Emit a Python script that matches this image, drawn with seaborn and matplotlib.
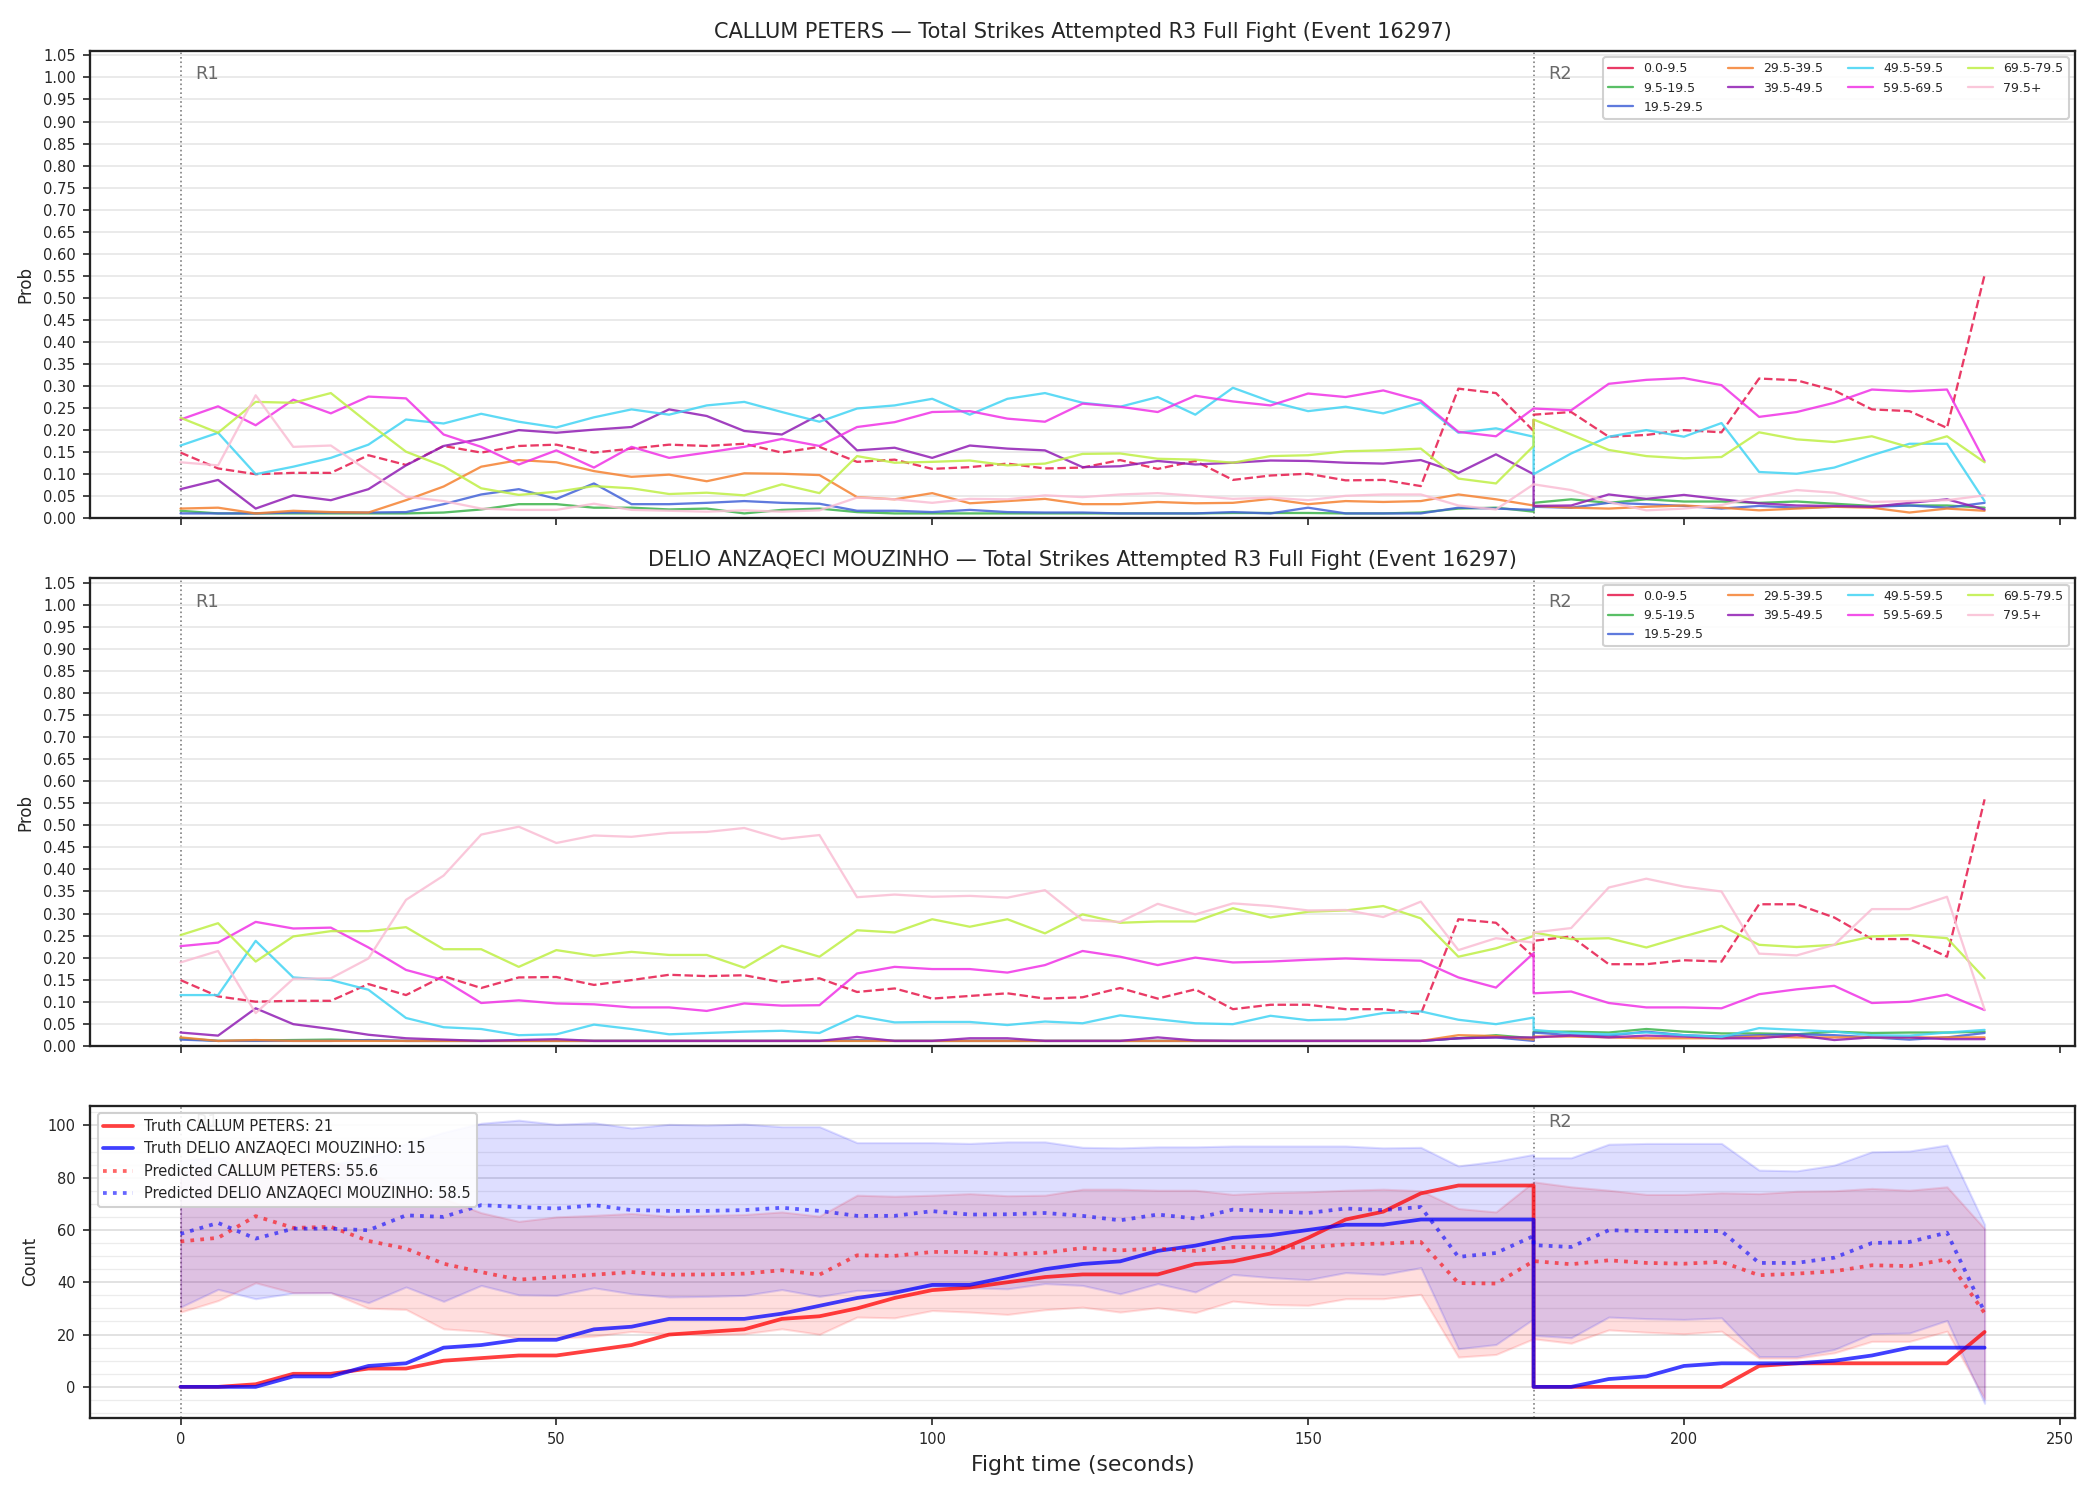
import numpy as np
import matplotlib
matplotlib.use("Agg")
import matplotlib.pyplot as plt
from matplotlib.ticker import MultipleLocator
from matplotlib.lines import Line2D
import seaborn as sns

# time grid: round 1 (0..180) then round 2 (180..240), 5 s steps
t_r1 = np.arange(0, 181, 5)
t_r2 = np.arange(180, 241, 5)
t = np.concatenate([t_r1, t_r2])

bins = ["0.0-9.5", "9.5-19.5", "19.5-29.5", "29.5-39.5", "39.5-49.5",
        "49.5-59.5", "59.5-69.5", "69.5-79.5", "79.5+"]
bin_colors = ["#e6194b", "#3cb44b", "#4363d8", "#f58231", "#911eb4",
              "#42d4f4", "#f032e6", "#bfef45", "#fabed4"]

# ---- CALLUM PETERS bin probabilities (37 round-1 values + 13 round-2 values)
cp_b0 = [0.149, 0.113, 0.100, 0.103, 0.103, 0.143, 0.121, 0.164, 0.149, 0.164,
         0.167, 0.149, 0.158, 0.167, 0.164, 0.169, 0.149, 0.162, 0.128, 0.133,
         0.112, 0.116, 0.124, 0.113, 0.115, 0.132, 0.112, 0.130, 0.087, 0.097,
         0.101, 0.086, 0.087, 0.073, 0.294, 0.284, 0.198,
         0.235, 0.241, 0.185, 0.189, 0.200, 0.195, 0.317, 0.313, 0.290, 0.247, 0.243, 0.205, 0.552]
cp_b1 = [0.017, 0.011, 0.011, 0.011, 0.011, 0.011, 0.011, 0.013, 0.020, 0.032,
         0.032, 0.024, 0.024, 0.020, 0.022, 0.011, 0.019, 0.022, 0.014, 0.011,
         0.011, 0.011, 0.011, 0.011, 0.011, 0.011, 0.011, 0.011, 0.012, 0.012,
         0.012, 0.011, 0.011, 0.013, 0.022, 0.024, 0.015,
         0.035, 0.043, 0.035, 0.043, 0.038, 0.038, 0.035, 0.038, 0.033, 0.028, 0.029, 0.029, 0.024]
cp_b2 = [0.011, 0.011, 0.011, 0.013, 0.013, 0.013, 0.014, 0.032, 0.054, 0.066,
         0.044, 0.079, 0.032, 0.032, 0.035, 0.039, 0.035, 0.033, 0.017, 0.017,
         0.014, 0.019, 0.014, 0.013, 0.013, 0.011, 0.011, 0.011, 0.014, 0.011,
         0.024, 0.011, 0.011, 0.011, 0.024, 0.022, 0.019,
         0.026, 0.024, 0.035, 0.032, 0.028, 0.022, 0.028, 0.024, 0.026, 0.026, 0.029, 0.024, 0.035]
cp_b3 = [0.022, 0.024, 0.011, 0.017, 0.014, 0.013, 0.041, 0.072, 0.117, 0.132,
         0.127, 0.107, 0.094, 0.099, 0.084, 0.102, 0.101, 0.098, 0.048, 0.043,
         0.057, 0.034, 0.039, 0.044, 0.032, 0.032, 0.037, 0.034, 0.035, 0.044,
         0.032, 0.039, 0.037, 0.039, 0.054, 0.043, 0.029,
         0.028, 0.024, 0.022, 0.026, 0.029, 0.024, 0.018, 0.022, 0.026, 0.024, 0.013, 0.022, 0.017]
cp_b4 = [0.066, 0.087, 0.022, 0.052, 0.041, 0.066, 0.120, 0.164, 0.180, 0.200,
         0.194, 0.201, 0.207, 0.247, 0.232, 0.198, 0.190, 0.235, 0.154, 0.160,
         0.137, 0.165, 0.158, 0.154, 0.116, 0.118, 0.130, 0.122, 0.126, 0.131,
         0.130, 0.126, 0.124, 0.132, 0.103, 0.145, 0.100,
         0.028, 0.029, 0.054, 0.044, 0.053, 0.043, 0.034, 0.029, 0.028, 0.026, 0.035, 0.043, 0.020]
cp_b5 = [0.165, 0.194, 0.100, 0.117, 0.137, 0.167, 0.224, 0.215, 0.237, 0.219,
         0.206, 0.229, 0.247, 0.235, 0.256, 0.264, 0.241, 0.219, 0.249, 0.256,
         0.271, 0.235, 0.271, 0.284, 0.262, 0.253, 0.275, 0.235, 0.296, 0.265,
         0.243, 0.253, 0.238, 0.262, 0.194, 0.204, 0.185,
         0.100, 0.147, 0.185, 0.200, 0.185, 0.216, 0.105, 0.101, 0.115, 0.143, 0.169, 0.169, 0.039]
cp_b6 = [0.224, 0.254, 0.211, 0.269, 0.238, 0.276, 0.272, 0.190, 0.162, 0.122,
         0.154, 0.115, 0.162, 0.137, 0.149, 0.162, 0.180, 0.164, 0.207, 0.218,
         0.241, 0.243, 0.226, 0.219, 0.260, 0.253, 0.241, 0.278, 0.265, 0.256,
         0.283, 0.275, 0.290, 0.267, 0.196, 0.186, 0.249,
         0.249, 0.245, 0.305, 0.314, 0.318, 0.302, 0.230, 0.241, 0.262, 0.292, 0.288, 0.292, 0.130]
cp_b7 = [0.228, 0.194, 0.264, 0.262, 0.284, 0.216, 0.151, 0.118, 0.068, 0.053,
         0.060, 0.073, 0.068, 0.055, 0.058, 0.052, 0.077, 0.057, 0.141, 0.126,
         0.128, 0.131, 0.120, 0.124, 0.146, 0.147, 0.135, 0.133, 0.126, 0.141,
         0.143, 0.152, 0.154, 0.158, 0.090, 0.079, 0.164,
         0.224, 0.190, 0.155, 0.141, 0.136, 0.139, 0.195, 0.179, 0.173, 0.186, 0.161, 0.186, 0.127]
cp_b8 = [0.127, 0.120, 0.279, 0.162, 0.165, 0.107, 0.049, 0.039, 0.022, 0.019,
         0.019, 0.033, 0.019, 0.017, 0.015, 0.018, 0.015, 0.018, 0.047, 0.043,
         0.035, 0.044, 0.043, 0.052, 0.048, 0.054, 0.057, 0.051, 0.044, 0.047,
         0.041, 0.051, 0.054, 0.054, 0.029, 0.020, 0.077,
         0.077, 0.064, 0.037, 0.018, 0.022, 0.030, 0.049, 0.064, 0.058, 0.037, 0.039, 0.041, 0.052]

# ---- DELIO ANZAQECI MOUZINHO bin probabilities
dm_b0 = [0.149, 0.112, 0.100, 0.102, 0.102, 0.140, 0.115, 0.158, 0.131, 0.155,
         0.156, 0.138, 0.149, 0.161, 0.158, 0.160, 0.144, 0.153, 0.122, 0.130,
         0.107, 0.113, 0.119, 0.107, 0.110, 0.131, 0.107, 0.128, 0.083, 0.093,
         0.093, 0.083, 0.083, 0.072, 0.287, 0.279, 0.202,
         0.238, 0.248, 0.185, 0.185, 0.194, 0.191, 0.321, 0.321, 0.291, 0.242, 0.242, 0.202, 0.559]
dm_b1 = [0.017, 0.011, 0.012, 0.013, 0.014, 0.012, 0.011, 0.011, 0.011, 0.011,
         0.011, 0.011, 0.011, 0.011, 0.011, 0.011, 0.011, 0.011, 0.011, 0.011,
         0.011, 0.011, 0.011, 0.011, 0.011, 0.011, 0.011, 0.011, 0.011, 0.011,
         0.011, 0.011, 0.011, 0.011, 0.017, 0.024, 0.017,
         0.032, 0.032, 0.030, 0.038, 0.032, 0.028, 0.028, 0.026, 0.032, 0.029, 0.030, 0.030, 0.032]
dm_b2 = [0.014, 0.011, 0.011, 0.011, 0.011, 0.013, 0.011, 0.011, 0.011, 0.011,
         0.011, 0.011, 0.011, 0.011, 0.011, 0.011, 0.011, 0.011, 0.013, 0.011,
         0.011, 0.011, 0.011, 0.011, 0.011, 0.011, 0.011, 0.011, 0.011, 0.011,
         0.011, 0.011, 0.011, 0.011, 0.017, 0.019, 0.011,
         0.030, 0.024, 0.023, 0.032, 0.024, 0.021, 0.024, 0.026, 0.024, 0.019, 0.014, 0.019, 0.029]
dm_b3 = [0.019, 0.011, 0.013, 0.011, 0.011, 0.011, 0.011, 0.011, 0.011, 0.011,
         0.011, 0.011, 0.011, 0.011, 0.011, 0.011, 0.011, 0.011, 0.011, 0.011,
         0.011, 0.011, 0.011, 0.011, 0.011, 0.011, 0.011, 0.011, 0.011, 0.011,
         0.011, 0.011, 0.011, 0.011, 0.024, 0.022, 0.014,
         0.021, 0.021, 0.019, 0.017, 0.017, 0.017, 0.021, 0.019, 0.019, 0.019, 0.019, 0.019, 0.019]
dm_b4 = [0.030, 0.023, 0.085, 0.049, 0.038, 0.025, 0.017, 0.014, 0.011, 0.013,
         0.015, 0.011, 0.011, 0.011, 0.011, 0.011, 0.011, 0.011, 0.020, 0.011,
         0.011, 0.017, 0.017, 0.011, 0.011, 0.011, 0.019, 0.012, 0.011, 0.011,
         0.011, 0.011, 0.011, 0.011, 0.017, 0.019, 0.019,
         0.019, 0.023, 0.019, 0.023, 0.021, 0.017, 0.017, 0.024, 0.013, 0.019, 0.019, 0.015, 0.015]
dm_b5 = [0.115, 0.115, 0.238, 0.155, 0.149, 0.127, 0.063, 0.042, 0.038, 0.024,
         0.026, 0.048, 0.038, 0.026, 0.029, 0.032, 0.034, 0.029, 0.068, 0.053,
         0.054, 0.054, 0.047, 0.055, 0.051, 0.069, 0.060, 0.051, 0.049, 0.068,
         0.058, 0.060, 0.074, 0.078, 0.059, 0.049, 0.064,
         0.036, 0.029, 0.026, 0.030, 0.024, 0.020, 0.040, 0.036, 0.032, 0.024, 0.023, 0.030, 0.036]
dm_b6 = [0.226, 0.234, 0.281, 0.266, 0.268, 0.223, 0.172, 0.149, 0.097, 0.103,
         0.096, 0.094, 0.087, 0.087, 0.079, 0.096, 0.091, 0.092, 0.164, 0.179,
         0.174, 0.174, 0.166, 0.183, 0.215, 0.202, 0.183, 0.200, 0.189, 0.191,
         0.195, 0.198, 0.195, 0.193, 0.155, 0.132, 0.210,
         0.119, 0.123, 0.097, 0.087, 0.087, 0.085, 0.117, 0.128, 0.136, 0.097, 0.100, 0.116, 0.081]
dm_b7 = [0.251, 0.278, 0.191, 0.248, 0.260, 0.260, 0.269, 0.219, 0.219, 0.179,
         0.217, 0.204, 0.213, 0.206, 0.206, 0.177, 0.227, 0.202, 0.262, 0.257,
         0.287, 0.270, 0.287, 0.255, 0.298, 0.279, 0.282, 0.282, 0.312, 0.291,
         0.304, 0.307, 0.317, 0.289, 0.202, 0.221, 0.249,
         0.257, 0.242, 0.244, 0.223, 0.248, 0.272, 0.229, 0.224, 0.229, 0.248, 0.251, 0.244, 0.153]
dm_b8 = [0.189, 0.215, 0.074, 0.152, 0.153, 0.198, 0.331, 0.386, 0.479, 0.497,
         0.460, 0.477, 0.474, 0.483, 0.485, 0.494, 0.469, 0.478, 0.337, 0.343,
         0.338, 0.340, 0.336, 0.353, 0.285, 0.281, 0.322, 0.298, 0.323, 0.317,
         0.307, 0.308, 0.292, 0.327, 0.217, 0.244, 0.234,
         0.257, 0.267, 0.359, 0.379, 0.361, 0.350, 0.209, 0.205, 0.229, 0.310, 0.310, 0.338, 0.082]

# ---- counts
truth_cp = [0, 0, 1, 5, 5, 7, 7, 10, 11, 12, 12, 14, 16, 20, 21, 22, 26, 27, 30, 34,
            37, 38, 40, 42, 43, 43, 43, 47, 48, 51, 57, 64, 67, 74, 77, 77, 77,
            0, 0, 0, 0, 0, 0, 8, 9, 9, 9, 9, 9, 21]
truth_dm = [0, 0, 0, 4, 4, 8, 9, 15, 16, 18, 18, 22, 23, 26, 26, 26, 28, 31, 34, 36,
            39, 39, 42, 45, 47, 48, 52, 54, 57, 58, 60, 62, 62, 64, 64, 64, 64,
            0, 0, 3, 4, 8, 9, 9, 9, 10, 12, 15, 15, 15]
pred_cp = [55.6, 57.0, 65.3, 60.8, 61.2, 55.8, 52.9, 47.1, 43.9, 41.0,
           42.0, 42.9, 43.9, 42.9, 43.0, 43.3, 44.6, 42.9, 50.3, 50.1,
           51.6, 51.6, 50.7, 51.3, 53.1, 52.2, 52.9, 52.0, 53.5, 53.3,
           53.3, 54.5, 54.8, 55.4, 39.7, 39.5, 48.1,
           48.1, 46.9, 48.4, 47.4, 47.1, 47.8, 42.7, 43.3, 44.2, 46.5, 46.2, 48.8, 28.2]
pred_dm = [58.5, 62.7, 56.7, 60.5, 60.5, 59.9, 65.6, 65.0, 69.5, 68.8,
           68.2, 69.5, 67.6, 67.3, 67.3, 67.6, 68.5, 67.3, 65.4, 65.4,
           67.2, 65.9, 66.0, 66.5, 65.4, 63.7, 65.9, 64.4, 67.8, 67.2,
           66.5, 68.2, 67.6, 68.8, 49.7, 51.2, 57.7,
           54.2, 53.5, 59.9, 59.6, 59.5, 59.6, 47.4, 47.4, 49.4, 55.0, 55.4, 59.0, 28.6]
lo_cp = [28.6, 33.0, 39.8, 36.0, 36.0, 30.1, 29.6, 22.2, 21.2, 18.6,
         18.6, 19.4, 21.2, 20.3, 19.9, 20.3, 22.2, 20.1, 26.7, 26.4,
         29.2, 28.6, 27.7, 29.5, 30.5, 28.6, 30.3, 28.4, 32.8, 31.5,
         31.2, 33.7, 33.7, 35.4, 11.4, 12.4, 18.4,
         18.4, 16.7, 21.8, 20.9, 20.3, 21.3, 11.0, 11.0, 13.0, 17.4, 17.4, 21.3, -4.5]
hi_cp = [82.6, 81.0, 90.8, 85.6, 86.4, 81.5, 76.2, 72.0, 66.6, 63.3,
         65.0, 65.6, 66.3, 65.3, 65.6, 65.9, 66.9, 65.3, 73.3, 72.9,
         73.3, 73.9, 73.1, 73.3, 75.6, 75.6, 75.2, 75.2, 73.6, 74.3,
         74.6, 75.2, 75.6, 75.0, 68.2, 66.9, 78.4,
         78.4, 76.5, 75.2, 73.6, 73.6, 74.2, 73.9, 74.8, 75.0, 75.9, 75.2, 76.5, 60.5]
lo_dm = [30.5, 37.3, 33.7, 35.9, 36.0, 32.2, 38.2, 32.7, 38.8, 35.2,
         35.0, 37.9, 35.6, 34.4, 34.6, 35.0, 37.2, 34.6, 36.9, 36.9,
         38.4, 37.9, 37.5, 39.5, 38.8, 35.6, 39.5, 36.3, 43.0, 41.8,
         41.0, 43.7, 43.0, 45.6, 14.6, 16.2, 26.0,
         19.7, 18.8, 26.7, 26.1, 25.8, 26.4, 11.6, 11.6, 14.3, 20.3, 20.6, 25.4, -6.3]
hi_dm = [86.5, 88.0, 79.7, 85.1, 85.0, 87.6, 93.0, 97.3, 100.8, 102.0,
         100.4, 101.0, 99.0, 100.4, 100.1, 100.5, 99.5, 99.5, 93.4, 93.4,
         93.4, 93.1, 93.7, 93.7, 91.6, 91.4, 91.8, 91.8, 92.1, 92.1,
         92.1, 92.1, 91.4, 91.6, 84.5, 86.3, 88.9,
         87.6, 87.6, 92.8, 93.1, 93.1, 93.1, 82.9, 82.6, 84.8, 89.9, 90.2, 92.5, 62.1]

cp_probs = [cp_b0, cp_b1, cp_b2, cp_b3, cp_b4, cp_b5, cp_b6, cp_b7, cp_b8]
dm_probs = [dm_b0, dm_b1, dm_b2, dm_b3, dm_b4, dm_b5, dm_b6, dm_b7, dm_b8]

sns.set_theme(style="ticks")
plt.rcParams['font.family'] = ['DejaVu Sans']

fig, (ax1, ax2, ax3) = plt.subplots(3, 1, figsize=(14, 10), dpi=150, sharex=True,
                                    gridspec_kw={'height_ratios': [3, 3, 2]})
fig.subplots_adjust(left=0.043, right=0.988, top=0.966, bottom=0.055, hspace=0.145)

round_starts = [(0, 'R1'), (180, 'R2')]

# legend handles are plain solid lines in the original
bin_handles = [Line2D([], [], color=c, alpha=0.85, lw=1.1) for c in bin_colors]

for ax, name, probs in [(ax1, 'CALLUM PETERS', cp_probs), (ax2, 'DELIO ANZAQECI MOUZINHO', dm_probs)]:
    for lab, col, vals in zip(bins, bin_colors, probs):
        sns.lineplot(x=t, y=vals, ax=ax, color=col, alpha=0.85, linewidth=1.1,
                     estimator=None, sort=False, legend=False,
                     linestyle='--' if lab == '0.0-9.5' else '-')
    ax.set_ylim(0, 1.06)
    ax.yaxis.set_major_locator(MultipleLocator(0.05))
    ax.set_ylabel('Prob', fontsize=8)
    ax.set_title(f'{name} \u2014 Total Strikes Attempted R3 Full Fight (Event 16297)', fontsize=10)
    ax.legend(bin_handles, bins, loc='upper right', ncol=4, fontsize=6.0,
              framealpha=0.9, edgecolor='#cccccc')
    ax.grid(axis='y', color='#e6e6e6', lw=0.8)

# count panel
ax3.fill_between(t, lo_cp, hi_cp, color='red', alpha=0.13)
ax3.fill_between(t, lo_dm, hi_dm, color='blue', alpha=0.13)
sns.lineplot(x=t, y=truth_cp, ax=ax3, color='red', alpha=0.75, linewidth=1.8,
             estimator=None, sort=False, label='Truth CALLUM PETERS: 21')
sns.lineplot(x=t, y=truth_dm, ax=ax3, color='blue', alpha=0.75, linewidth=1.8,
             estimator=None, sort=False, label='Truth DELIO ANZAQECI MOUZINHO: 15')
sns.lineplot(x=t, y=pred_cp, ax=ax3, color='red', alpha=0.6, linewidth=1.8, linestyle=':',
             estimator=None, sort=False, label='Predicted CALLUM PETERS: 55.6')
sns.lineplot(x=t, y=pred_dm, ax=ax3, color='blue', alpha=0.6, linewidth=1.8, linestyle=':',
             estimator=None, sort=False, label='Predicted DELIO ANZAQECI MOUZINHO: 58.5')
ax3.yaxis.set_major_locator(MultipleLocator(20))
ax3.yaxis.set_minor_locator(MultipleLocator(5))
ax3.tick_params(axis='y', which='minor', length=0)
ax3.grid(axis='y', which='major', color='#dddddd', lw=0.8)
ax3.grid(axis='y', which='minor', color='#ececec', lw=0.6)
ax3.set_ylabel('Count', fontsize=8)
ax3.set_xlabel('Fight time (seconds)', fontsize=10.5)
leg3 = ax3.legend(loc='upper left', fontsize=7.0, framealpha=0.9, edgecolor='#cccccc')
leg3.set_zorder(10)

for ax in (ax1, ax2, ax3):
    for x0, lab in round_starts:
        ax.axvline(x0, color='gray', ls=':', lw=0.8, zorder=0)
        ax.text(x0 + 2, 0.95, lab, transform=ax.get_xaxis_transform(),
                color='dimgray', fontsize=8.5, va='center', ha='left', zorder=1)
    ax.set_axisbelow(True)
    ax.tick_params(labelsize=7, length=3.5, width=0.8)
    for s in ax.spines.values():
        s.set_linewidth(1.1)
        s.set_color('#222222')

ax3.set_xticks([0, 50, 100, 150, 200, 250])

fig.savefig('out.png', dpi=150)
